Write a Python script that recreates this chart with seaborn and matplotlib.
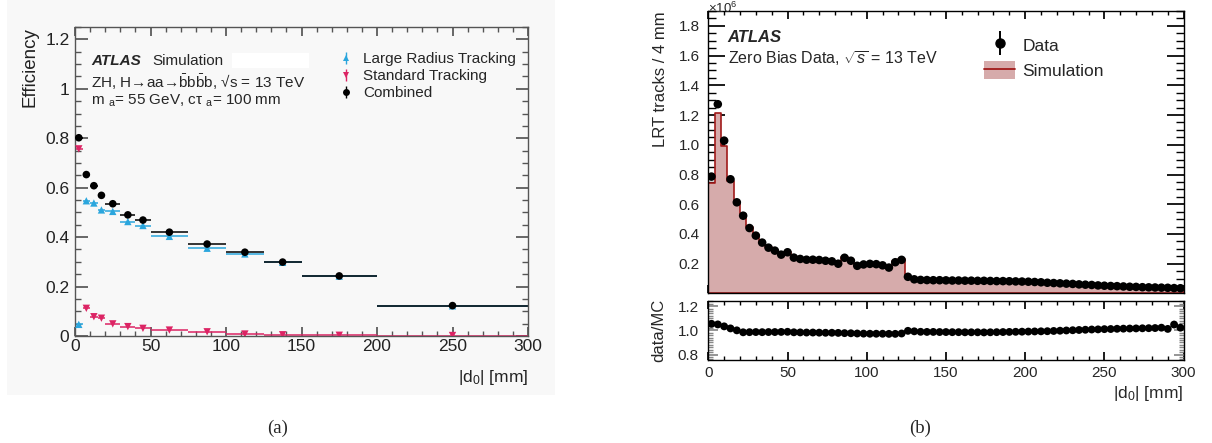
import numpy as np
import pandas as pd
import matplotlib
matplotlib.use("Agg")
import matplotlib.pyplot as plt
from matplotlib.lines import Line2D
from matplotlib.patches import Patch, Rectangle
from matplotlib.ticker import MultipleLocator, FixedLocator, FuncFormatter
import seaborn as sns

# ---------------- panel (a): track reconstruction efficiency vs |d0| ----------------
eff_edges = [0, 5, 10, 15, 20, 30, 40, 50, 75, 100, 125, 150, 200, 300]
eff_lrt = [0.047, 0.547, 0.538, 0.510, 0.504, 0.463, 0.447, 0.403, 0.355, 0.332, 0.298, 0.242, 0.122]
eff_std = [0.757, 0.112, 0.078, 0.072, 0.049, 0.038, 0.031, 0.024, 0.017, 0.008, 0.005, 0.003, 0.002]
eff_comb = [0.802, 0.653, 0.608, 0.569, 0.535, 0.490, 0.469, 0.420, 0.372, 0.339, 0.299, 0.243, 0.123]
eff_labels = ["Large Radius Tracking", "Standard Tracking", "Combined"]

# ---------------- panel (b): LRT track |d0| in zero-bias data (x 10^6 per 4 mm) ----------------
d0_bin_width = 4
d0_range = (0, 300)
lrt_data = [
    0.786, 1.273, 1.028, 0.768, 0.613, 0.523, 0.440, 0.389, 0.342, 0.308,
    0.288, 0.261, 0.277, 0.241, 0.232, 0.227, 0.227, 0.225, 0.220, 0.216,
    0.200, 0.240, 0.220, 0.186, 0.195, 0.199, 0.197, 0.189, 0.174, 0.210,
    0.226, 0.112, 0.095, 0.091, 0.090, 0.089, 0.089, 0.088, 0.087, 0.087,
    0.086, 0.086, 0.085, 0.085, 0.084, 0.083, 0.083, 0.082, 0.081, 0.080,
    0.079, 0.077, 0.075, 0.072, 0.070, 0.068, 0.066, 0.064, 0.061, 0.059,
    0.057, 0.054, 0.052, 0.050, 0.049, 0.047, 0.045, 0.044, 0.042, 0.041,
    0.040, 0.039, 0.038, 0.036, 0.035,
]
# data / MC ratio per bin
lrt_ratio = [
    1.054, 1.049, 1.033, 1.016, 1.000, 0.984, 0.985, 0.986, 0.985, 0.986,
    0.986, 0.987, 0.988, 0.984, 0.983, 0.982, 0.982, 0.981, 0.980, 0.980,
    0.979, 0.977, 0.976, 0.974, 0.973, 0.972, 0.972, 0.972, 0.971, 0.971,
    0.974, 0.996, 0.992, 0.988, 0.987, 0.987, 0.986, 0.986, 0.985, 0.985,
    0.984, 0.984, 0.984, 0.983, 0.984, 0.985, 0.986, 0.987, 0.988, 0.989,
    0.990, 0.991, 0.992, 0.993, 0.995, 0.997, 0.999, 1.001, 1.003, 1.005,
    1.007, 1.008, 1.010, 1.011, 1.013, 1.014, 1.015, 1.016, 1.017, 1.018,
    1.019, 1.022, 1.012, 1.048, 1.022,
]

# ---------------- style ----------------
sns.set_theme(style="ticks")
plt.rcParams["font.family"] = ["Liberation Sans", "DejaVu Sans"]
plt.rcParams["mathtext.fontset"] = "custom"
plt.rcParams["mathtext.rm"] = "Liberation Sans"
plt.rcParams["mathtext.it"] = "Liberation Sans:italic"
plt.rcParams["mathtext.bf"] = "Liberation Sans:bold"

C_LRT = "#2ba6dd"
C_STD = "#dc2464"
C_COMB = "black"
SIM_FILL = "#d6abab"
SIM_LINE = "#a11a1a"
PANEL_BG = "#f8f8f8"
AX_GRAY = "#555555"

W, H = 1212, 443
fig = plt.figure(figsize=(W / 100, H / 100), dpi=100)


def box(x0, y0, x1, y1):
    """Axes rectangle from pixel corners (top-left origin)."""
    return [x0 / W, 1 - y1 / H, (x1 - x0) / W, (y1 - y0) / H]


fig.patches.append(Rectangle((7 / W, 1 - 395 / H), 548 / W, 395 / H,
                             transform=fig.transFigure, facecolor=PANEL_BG,
                             edgecolor="none", zorder=-10))

ax_a = fig.add_axes(box(75, 27, 528, 336))
ax_b = fig.add_axes(box(708.3, 11, 1183.6, 292.7))
ax_r = fig.add_axes(box(708.3, 300.7, 1183.6, 360), sharex=ax_b)

# ---------------- panel (a) ----------------
edges = np.asarray(eff_edges, dtype=float)
eff = pd.DataFrame({
    "d0": 0.5 * (edges[:-1] + edges[1:]),
    "half": 0.5 * np.diff(edges),
    "lrt": eff_lrt, "std": eff_std, "comb": eff_comb,
})
series = [("lrt", C_LRT, "^", 28), ("std", C_STD, "v", 28), ("comb", C_COMB, "o", 30)]
for key, color, marker, size in series:
    ax_a.errorbar(eff["d0"], eff[key], xerr=eff["half"], fmt="none",
                  ecolor=color, elinewidth=1.1, zorder=2)
    sns.scatterplot(data=eff, x="d0", y=key, ax=ax_a, color=color, marker=marker,
                    s=size, edgecolor="none", zorder=3, legend=False)

ax_a.set_facecolor(PANEL_BG)
ax_a.set_xlim(0, 300)
ax_a.set_ylim(0, 1.25)
ax_a.xaxis.set_major_locator(MultipleLocator(50))
ax_a.xaxis.set_minor_locator(MultipleLocator(10))
ax_a.yaxis.set_major_locator(FixedLocator([0, 0.2, 0.4, 0.6, 0.8, 1.0, 1.2]))
ax_a.yaxis.set_minor_locator(MultipleLocator(0.05))
ax_a.yaxis.set_major_formatter(FuncFormatter(lambda v, _: f"{v:g}"))
ax_a.tick_params(which="both", direction="in", top=True, right=True,
                 color=AX_GRAY, labelsize=12.5, labelcolor="#222222")
ax_a.tick_params(axis="x", which="major", length=6.5, pad=2)
ax_a.tick_params(axis="x", which="minor", length=3.5)
ax_a.tick_params(axis="y", which="major", length=9, pad=4)
ax_a.tick_params(axis="y", which="minor", length=4.5)
for sp in ax_a.spines.values():
    sp.set_color(AX_GRAY)
    sp.set_linewidth(1.0)
ax_a.set_ylabel("Efficiency", loc="top", fontsize=13.5, labelpad=5, color="#222222")
ax_a.set_xlabel("|d$_0$| [mm]", loc="right", fontsize=12.5, labelpad=10, color="#222222")

ax_a.add_patch(Rectangle((0.3466, 0.867), 0.17, 0.049, transform=ax_a.transAxes,
                         facecolor="white", edgecolor="none", zorder=1))
ax_a.text(0.0353, 0.890, "ATLAS", transform=ax_a.transAxes, fontsize=11,
          weight="bold", style="italic", va="center", ha="left")
ax_a.text(0.1715, 0.890, "Simulation", transform=ax_a.transAxes, fontsize=11,
          va="center", ha="left")
ax_a.text(0.0353, 0.823,
          r"ZH, H→aa→$\bar{\mathrm{b}}$b$\bar{\mathrm{b}}$b, √s = 13 TeV",
          transform=ax_a.transAxes, fontsize=11, va="center", ha="left")
ax_a.text(0.0353, 0.760,
          r"m $_{\mathrm{a}}$= 55 GeV, cτ $_{\mathrm{a}}$= 100 mm",
          transform=ax_a.transAxes, fontsize=11, va="center", ha="left")

leg_a_handles = []
for key, color, marker, size in series:
    leg_a_handles.append((
        Line2D([], [], color=color, marker="|", ls="none", markersize=9, markeredgewidth=1.0),
        Line2D([], [], color=color, marker=marker, ls="none", markersize=5,
               markeredgewidth=0),
    ))
ax_a.legend(leg_a_handles, eff_labels, loc="upper left", bbox_to_anchor=(0.582, 0.918),
            frameon=False, fontsize=11, handlelength=1.0, handletextpad=0.6,
            labelspacing=0.2, borderpad=0, borderaxespad=0)

# ---------------- panel (b) ----------------
d0_edges = list(range(d0_range[0], d0_range[1] + d0_bin_width, d0_bin_width))
trk = pd.DataFrame({
    "d0": [0.5 * (lo + hi) for lo, hi in zip(d0_edges[:-1], d0_edges[1:])],
    "data": lrt_data,
    "ratio": lrt_ratio,
})
trk["sim"] = trk["data"] / trk["ratio"]

sns.histplot(data=trk, x="d0", weights="sim", bins=d0_edges, element="step",
             fill=True, color=SIM_FILL, edgecolor=SIM_LINE, linewidth=1.2,
             alpha=1, ax=ax_b, zorder=1)
sns.scatterplot(data=trk, x="d0", y="data", ax=ax_b, color="black", s=38,
                edgecolor="none", zorder=3, legend=False)
sns.scatterplot(data=trk, x="d0", y="ratio", ax=ax_r, color="black", s=32,
                edgecolor="none", zorder=3, legend=False)

ax_b.set_xlim(*d0_range)
ax_b.set_ylim(0.005, 1.9)
ax_b.yaxis.set_major_locator(FixedLocator([0.2, 0.4, 0.6, 0.8, 1.0, 1.2, 1.4, 1.6, 1.8]))
ax_b.yaxis.set_minor_locator(MultipleLocator(0.05))
ax_b.yaxis.set_major_formatter(FuncFormatter(lambda v, _: f"{v:.1f}"))
ax_b.xaxis.set_major_locator(MultipleLocator(50))
ax_b.xaxis.set_minor_locator(MultipleLocator(10))
ax_b.tick_params(which="both", direction="in", top=True, right=True, color="black",
                 labelsize=11, labelbottom=False)
ax_b.tick_params(axis="y", which="major", length=12, pad=6)
ax_b.tick_params(axis="y", which="minor", length=5.5)
ax_b.tick_params(axis="x", which="major", length=5.5)
ax_b.tick_params(axis="x", which="minor", length=3)
ax_b.set_xlabel("")
ax_b.set_ylabel("LRT tracks / 4 mm", loc="top", fontsize=12, labelpad=8)

ax_r.set_ylim(0.755, 1.245)
ax_r.yaxis.set_major_locator(FixedLocator([0.8, 1.0, 1.2]))
ax_r.yaxis.set_minor_locator(MultipleLocator(0.02))
ax_r.yaxis.set_major_formatter(FuncFormatter(lambda v, _: f"{v:.1f}"))
ax_r.tick_params(which="both", direction="in", top=True, right=True, color="black",
                 labelsize=11)
ax_r.tick_params(axis="y", which="both", color="#888888")
ax_r.tick_params(axis="y", which="major", length=7, pad=7)
ax_r.tick_params(axis="y", which="minor", length=3.5)
ax_r.tick_params(axis="x", which="major", length=5.5, pad=4)
ax_r.tick_params(axis="x", which="minor", length=3)
ax_r.set_xlabel("|d$_0$| [mm]", loc="right", fontsize=12.5, labelpad=3)
ax_r.set_ylabel("data/MC", fontsize=12, labelpad=8)

for ax in (ax_b, ax_r):
    for sp in ax.spines.values():
        sp.set_color("black")
        sp.set_linewidth(1.0)

ax_b.text(0.041, 0.906, "ATLAS", transform=ax_b.transAxes, fontsize=12,
          weight="bold", style="italic", va="center", ha="left")
ax_b.text(0.041, 0.830, r"Zero Bias Data, $\sqrt{s}$ = 13 TeV", transform=ax_b.transAxes,
          fontsize=11.5, va="center", ha="left")
# axis multiplier above the main frame
fig.text(708 / W, 1.0 - 0.5 / H, r"×10$^{6}$", fontsize=9.5, ha="left", va="top")

data_handle = (
    Line2D([], [], color="black", marker="|", ls="none", markersize=17, markeredgewidth=1.4),
    Line2D([], [], color="black", marker="o", ls="none", markersize=6.5),
)
sim_handle = (
    Patch(facecolor=SIM_FILL, edgecolor="none"),
    Line2D([], [], color=SIM_LINE, lw=1.3),
)
ax_b.legend([data_handle, sim_handle], ["Data", "Simulation"], loc="upper left",
            bbox_to_anchor=(0.580, 0.911), frameon=False, fontsize=12.5,
            handlelength=1.8, handleheight=1.15, handletextpad=0.4,
            labelspacing=0.45, borderpad=0, borderaxespad=0)

# ---------------- sub-figure captions ----------------
fig.text(278 / W, 1 - 428 / H, "(a)", ha="center", va="center", fontsize=13.5,
         family="Liberation Serif")
fig.text(920 / W, 1 - 428 / H, "(b)", ha="center", va="center", fontsize=13.5,
         family="Liberation Serif")

fig.savefig("out.png", dpi=100, facecolor="white")
